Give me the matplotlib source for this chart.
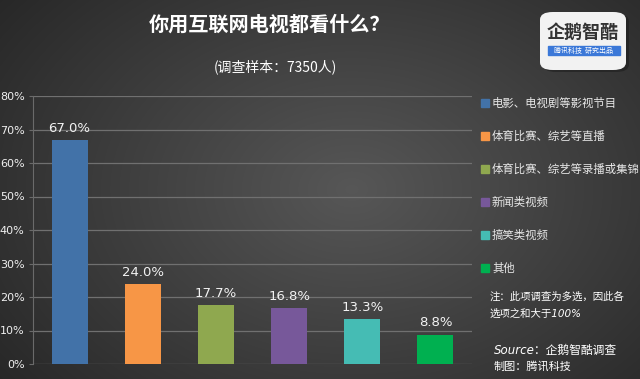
import numpy as np
import matplotlib.pyplot as plt
from matplotlib.patches import FancyBboxPatch, Rectangle

plt.rcParams['font.family'] = ['Noto Sans CJK SC', 'DejaVu Sans']

categories = ["电影、电视剧等影视节目", "体育比赛、综艺等直播", "体育比赛、综艺等录播或集锦",
              "新闻类视频", "搞笑类视频", "其他"]
values = [67.0, 24.0, 17.7, 16.8, 13.3, 8.8]
colors = ["#4272a8", "#f79646", "#8fa84f", "#77589a", "#45bcb4", "#00b050"]
yticks = [0, 10, 20, 30, 40, 50, 60, 70, 80]

fig = plt.figure(figsize=(6.4, 3.79), dpi=100)

# radial dark background
bg = fig.add_axes([0, 0, 1, 1])
xx, yy = np.meshgrid(np.linspace(0, 1, 640), np.linspace(0, 1, 379))
r = np.sqrt(((xx - 0.55) / 0.75) ** 2 + ((yy - 0.5) / 0.9) ** 2)
shade = np.clip(0.34 - 0.2 * r, 0.14, 0.34)
bg.imshow(np.dstack([shade] * 3), aspect="auto", extent=[0, 1, 0, 1], origin="upper")
bg.set_xlim(0, 1)
bg.set_ylim(0, 1)
bg.axis("off")

ax = fig.add_axes([33 / 640, 1 - 364 / 379, (472 - 33) / 640, (364 - 96) / 379])
ax.patch.set_alpha(0)
x = np.arange(len(values))
ax.bar(x, values, width=0.49, color=colors, zorder=3)
for xi, v in zip(x, values):
    ax.text(xi, v + 1.5, f"{v:.1f}%", ha="center", va="bottom", color="#f2f2f2",
            fontsize=9.5, family="DejaVu Sans")

ax.set_xlim(-0.5, 5.5)
ax.set_ylim(0, 80)
ax.set_yticks(yticks)
ax.set_yticklabels([f"{t}%" for t in yticks], color="#f0f0f0", fontsize=8, family="DejaVu Sans")
ax.set_xticks([])
ax.grid(axis="y", color="#707070", linewidth=0.9, zorder=0)
for s in ["top", "right", "bottom"]:
    ax.spines[s].set_visible(False)
ax.spines["left"].set_color("#6a6a6a")
ax.tick_params(axis="y", length=3, color="#6a6a6a", pad=3)

# title
fig.text(270 / 640, 1 - 24 / 379, "你用互联网电视都看什么？", ha="center", va="center",
         color="white", fontsize=14.5, fontweight="bold")
fig.text(275 / 640, 1 - 67 / 379, "(调查样本：7350人)", ha="center", va="center",
         color="white", fontsize=10)

# legend
leg_y = [103, 136, 169, 202, 235, 268]
for c, lab, yy_ in zip(colors, categories, leg_y):
    fig.patches.append(Rectangle((481 / 640, 1 - (yy_ + 4) / 379), 8 / 640, 8 / 379,
                                 transform=fig.transFigure, color=c, figure=fig))
    fig.text(492 / 640, 1 - yy_ / 379, lab, ha="left", va="center", color="#e8e8e8", fontsize=8.2)

# notes
note_font = ['DejaVu Sans', 'Noto Sans CJK SC']
fig.text(490 / 640, 1 - 297 / 379, "注：此项调查为多选，因此各", color="white", fontsize=7.5,
         style="italic", va="center")
fig.text(490 / 640, 1 - 314 / 379, "选项之和大于100%", color="white", fontsize=7.5,
         style="italic", va="center", family=note_font)
fig.text(494 / 640, 1 - 350 / 379, "Source：企鹅智酷调查", color="white", fontsize=8.5,
         style="italic", va="center", family=note_font)
fig.text(494 / 640, 1 - 366 / 379, "制图：腾讯科技", color="white", fontsize=8,
         style="italic", va="center")

# logo
fig.patches.append(FancyBboxPatch((543 / 640, 1 - 72 / 379), 86 / 640, 58 / 379,
                                  boxstyle="round,pad=0,rounding_size=0.02",
                                  transform=fig.transFigure, facecolor="#1e1e1e",
                                  edgecolor="none", alpha=0.6, figure=fig))
fig.patches.append(FancyBboxPatch((540 / 640, 1 - 70 / 379), 86 / 640, 58 / 379,
                                  boxstyle="round,pad=0,rounding_size=0.02",
                                  transform=fig.transFigure, facecolor="#f2f2f2",
                                  edgecolor="none", figure=fig))
fig.text(583 / 640, 1 - 32 / 379, "企鹅智酷", ha="center", va="center", color="#333333",
         fontsize=13, fontweight="bold")
fig.patches.append(Rectangle((548 / 640, 1 - 55 / 379), 72 / 640, 9 / 379,
                             transform=fig.transFigure, color="#3b78d8", figure=fig))
fig.text(584 / 640, 1 - 50.5 / 379, "腾讯科技  研究出品", ha="center", va="center",
         color="white", fontsize=5)

fig.savefig("out.png", dpi=100)
